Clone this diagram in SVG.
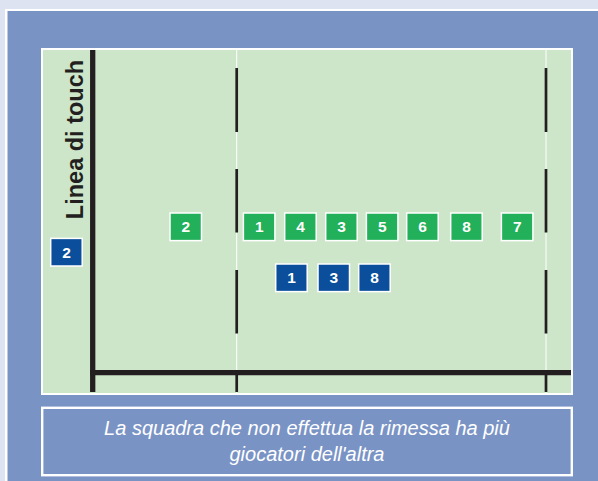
<svg xmlns="http://www.w3.org/2000/svg" width="598" height="481" viewBox="0 0 598 481">
<defs>
<style>
.line{stroke:#231f20;fill:none}
.thin{stroke:#ffffff;stroke-width:1;fill:none}
.g rect{fill:#22b05a;stroke:#ffffff;stroke-width:1.5}
.b rect{fill:#0b4f9c;stroke:#ffffff;stroke-width:1.5}
.num{font-family:"Liberation Sans",Arial,sans-serif;font-weight:bold;font-size:15.5px;fill:#ffffff;text-anchor:middle}
.cap{font-family:"Liberation Sans",Arial,sans-serif;font-style:italic;font-size:20px;fill:#ffffff;text-anchor:middle}
.touch{font-family:"Liberation Sans",Arial,sans-serif;font-weight:bold;font-size:23.5px;fill:#231f20;text-anchor:middle}
</style>
</defs>
<rect x="0" y="0" width="598" height="481" fill="#dde3f0"/>
<rect x="5" y="9" width="600" height="480" fill="#ffffff"/>
<rect x="7.5" y="11" width="600" height="480" fill="#7a93c5"/>
<g id="field">
<rect x="41" y="48" width="532" height="347" fill="#ffffff"/>
<rect x="43" y="50" width="528" height="343" fill="#cde6ca"/>
<line class="thin" x1="236.7" y1="50" x2="236.7" y2="393"/>
<line class="thin" x1="546" y1="50" x2="546" y2="393"/>
</g>
<g id="connectors">
<line class="line" x1="92.7" y1="50" x2="92.7" y2="392" stroke-width="5.3"/>
<line class="line" x1="90" y1="372.7" x2="571" y2="372.7" stroke-width="5.3"/>
<g stroke-width="2.7">
<line class="line" x1="236.7" y1="68" x2="236.7" y2="132"/>
<line class="line" x1="236.7" y1="169" x2="236.7" y2="232.5"/>
<line class="line" x1="236.7" y1="270" x2="236.7" y2="333.5"/>
<line class="line" x1="236.7" y1="375" x2="236.7" y2="392"/>
<line class="line" x1="546" y1="68" x2="546" y2="132"/>
<line class="line" x1="546" y1="169" x2="546" y2="232.5"/>
<line class="line" x1="546" y1="270" x2="546" y2="333.5"/>
<line class="line" x1="546" y1="375" x2="546" y2="392"/>
</g>
</g>
<g id="touch-label">
<text class="touch" transform="translate(83,139.5) rotate(-90)">Linea di touch</text>
</g>
<g id="g2" class="g"><rect x="170" y="213" width="31.5" height="27.6"/><text class="num" x="185.8" y="232.4">2</text></g>
<g id="g1" class="g"><rect x="243.4" y="213" width="31.5" height="27.6"/><text class="num" x="259.2" y="232.4">1</text></g>
<g id="g4" class="g"><rect x="284.7" y="213" width="31.5" height="27.6"/><text class="num" x="300.5" y="232.4">4</text></g>
<g id="g3" class="g"><rect x="325.7" y="213" width="31.5" height="27.6"/><text class="num" x="341.5" y="232.4">3</text></g>
<g id="g5" class="g"><rect x="366.4" y="213" width="31.5" height="27.6"/><text class="num" x="382.2" y="232.4">5</text></g>
<g id="g6" class="g"><rect x="406.7" y="213" width="31.5" height="27.6"/><text class="num" x="422.5" y="232.4">6</text></g>
<g id="g8" class="g"><rect x="450.7" y="213" width="31.5" height="27.6"/><text class="num" x="466.5" y="232.4">8</text></g>
<g id="g7" class="g"><rect x="501.4" y="213" width="31.5" height="27.6"/><text class="num" x="517.2" y="232.4">7</text></g>
<g id="b2" class="b"><rect x="50.7" y="238.4" width="31.5" height="27.6"/><text class="num" x="66.5" y="257.8">2</text></g>
<g id="b1" class="b"><rect x="275.7" y="264" width="31.5" height="27.6"/><text class="num" x="291.5" y="283.4">1</text></g>
<g id="b3" class="b"><rect x="318" y="264" width="31.5" height="27.6"/><text class="num" x="333.8" y="283.4">3</text></g>
<g id="b8" class="b"><rect x="358.7" y="264" width="31.5" height="27.6"/><text class="num" x="374.5" y="283.4">8</text></g>
<g id="caption">
<rect x="42.2" y="407.8" width="529.6" height="67.4" fill="#7a93c5" stroke="#ffffff" stroke-width="2.4"/>
<text class="cap" x="307" y="434.7">La squadra che non effettua la rimessa ha più</text>
<text class="cap" x="307" y="460.7">giocatori dell'altra</text>
</g>
</svg>
